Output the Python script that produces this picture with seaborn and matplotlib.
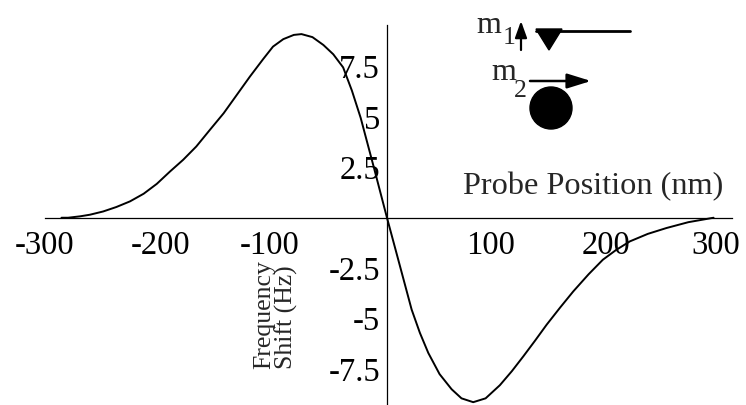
import matplotlib
matplotlib.use("Agg")
import matplotlib.pyplot as plt
from matplotlib.patches import Polygon, Ellipse
from matplotlib.lines import Line2D
from matplotlib.transforms import ScaledTranslation
import seaborn as sns

# Frequency shift of the cantilever versus lateral probe position
position_nm = [-297, -291, -280, -271, -259, -247, -234.5, -222, -210, -198, -186,
               -174, -161.5, -149, -137, -125, -113, -104, -94.6, -85, -78, -68,
               -58, -49, -40, -32, -24, -12, 0, 10.3, 22.5, 30, 37.7, 48, 59, 68,
               78.7, 90, 103, 114, 124.4, 135, 145.7, 158, 170, 184, 197, 209,
               221.7, 238, 255, 275, 298]
shift_hz = [0.0, 0.0, 0.07, 0.15, 0.31, 0.53, 0.81, 1.19, 1.68, 2.29, 2.87,
            3.53, 4.36, 5.18, 6.09, 7.0, 7.86, 8.48, 8.85, 9.06, 9.1, 8.95,
            8.56, 8.1, 7.45, 6.3, 4.95, 2.5, 0.0, -2.08, -4.55, -5.7, -6.7, -7.75,
            -8.5, -8.95, -9.14, -8.95, -8.3, -7.6, -6.87, -6.1, -5.3, -4.45,
            -3.65, -2.8, -2.08, -1.6, -1.17, -0.8, -0.51, -0.22, 0.0]

x_ticks = [-300, -200, -100, 100, 200, 300]
x_tick_labels = ["-300", "-200", "-100", "100", "200", "300"]
y_ticks = [-7.5, -5, -2.5, 2.5, 5, 7.5]
y_tick_labels = ["-7.5", "-5", "-2.5", "2.5", "5", "7.5"]

W, H = 746, 405

sns.set_style("white")
plt.rcParams["font.family"] = ["Liberation Serif", "DejaVu Serif"]
plt.rcParams["axes.unicode_minus"] = False

fig = plt.figure(figsize=(W / 100, H / 100), dpi=100)
ax = fig.add_axes([0, 0, 1, 1])
ax.set_facecolor("white")

sns.lineplot(x=position_nm, y=shift_hz, ax=ax, color="black", linewidth=1.4,
             estimator=None, sort=False)

ax.set_xlim(-353.1, 327.6)
ax.set_ylim(-9.28, 10.79)

# axes crossing at the origin
for side in ("top", "right"):
    ax.spines[side].set_visible(False)
ax.spines["left"].set_position(("data", 0))
ax.spines["bottom"].set_position(("data", 0))
ax.spines["left"].set_bounds(-9.4, 9.55)
ax.spines["bottom"].set_bounds(-312, 315)
for side in ("left", "bottom"):
    ax.spines[side].set_color("black")
    ax.spines[side].set_linewidth(0.9)

ax.set_xticks(x_ticks)
ax.set_xticklabels(x_tick_labels)
ax.set_yticks(y_ticks)
ax.set_yticklabels(y_tick_labels)
ax.tick_params(axis="x", direction="in", length=7, width=0.8, pad=9,
               labelsize=23.5, colors="black")
ax.tick_params(axis="y", direction="in", length=3, width=0.8, pad=5,
               labelsize=23.5, colors="black")
ax.set_xlabel("")
ax.set_ylabel("")

# nudge the negative labels so the minus sign hangs left of the tick
label_shift_px = [-14, -7, -8, -6, 0, 0]
for lab, dx in zip(ax.get_xticklabels(), label_shift_px):
    lab.set_transform(lab.get_transform() +
                      ScaledTranslation(dx / 100, 0, fig.dpi_scale_trans))


def fig_xy(px, py):
    return (px / W, 1 - py / H)


ax.text(*fig_xy(593, 194), "Probe Position (nm)", transform=fig.transFigure,
        ha="center", va="baseline", fontsize=23.3)
ax.text(*fig_xy(276, 369), "Frequency\nShift (Hz)", transform=fig.transFigure,
        ha="center", va="bottom", rotation=90, multialignment="left",
        linespacing=0.97, fontsize=18.5)

# tip / sample sketch with magnetic moments
ax.text(*fig_xy(476, 33), "m", transform=fig.transFigure, ha="left",
        va="baseline", fontsize=23)
ax.text(*fig_xy(503, 44), "1", transform=fig.transFigure, ha="left",
        va="baseline", fontsize=18.5)
ax.annotate("", xy=fig_xy(521, 21), xytext=fig_xy(521, 50),
            xycoords="figure fraction", textcoords="figure fraction",
            arrowprops=dict(arrowstyle="-|>,head_length=1.0,head_width=0.36",
                            mutation_scale=10, lw=1.6, color="black",
                            shrinkA=0, shrinkB=0))
tip = Polygon([fig_xy(536, 29), fig_xy(562, 29), fig_xy(549, 50)], closed=True,
              transform=fig.transFigure, facecolor="black", edgecolor="black")
fig.patches.append(tip)
fig.lines.append(Line2D([536 / W, 630 / W], [1 - 30.5 / H, 1 - 30.5 / H],
                        transform=fig.transFigure, color="black", linewidth=2))

ax.text(*fig_xy(491, 80), "m", transform=fig.transFigure, ha="left",
        va="baseline", fontsize=23)
ax.text(*fig_xy(514, 97), "2", transform=fig.transFigure, ha="left",
        va="baseline", fontsize=18.5)
ax.annotate("", xy=fig_xy(591, 81), xytext=fig_xy(530, 81),
            xycoords="figure fraction", textcoords="figure fraction",
            arrowprops=dict(arrowstyle="-|>,head_length=1.45,head_width=0.45",
                            mutation_scale=10, lw=1.8, color="black",
                            shrinkA=0, shrinkB=0))
ball = Ellipse(fig_xy(551, 108), 42 / W, 42 / H, transform=fig.transFigure,
               facecolor="black", edgecolor="black")
fig.patches.append(ball)

fig.savefig("out.png", dpi=100, facecolor="white")
